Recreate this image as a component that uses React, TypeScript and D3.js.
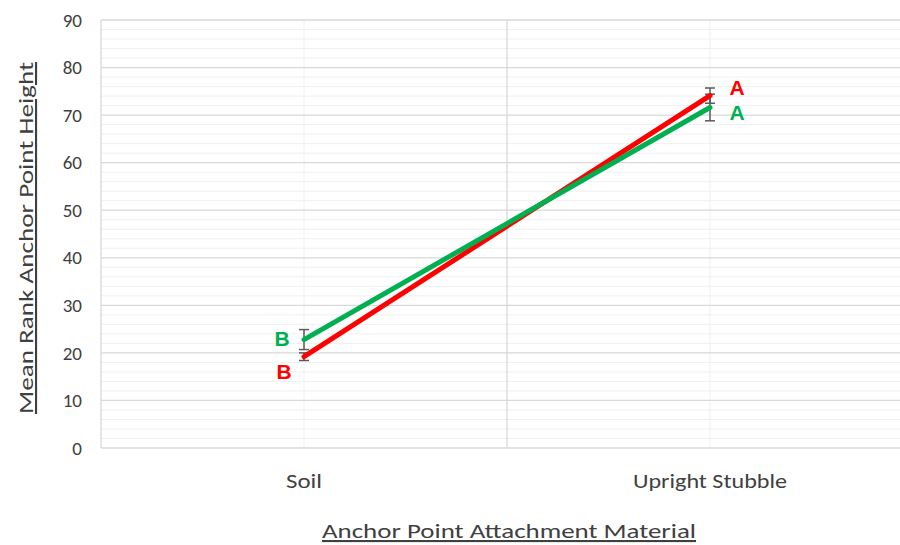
import * as d3 from "d3";

const width = 900;
const height = 545;
const margin = { top: 20, left: 101, bottom: 97 };

// data
const categories = ["Soil", "Upright Stubble"];
const categoryWidths = [36, 154];
const redMeans = [19.2, 74.1];
const redErr = [0.8, 1.6];
const redLetters = ["B", "A"];
const greenMeans = [22.8, 71.6];
const greenErr = [2.1, 2.8];
const greenLetters = ["B", "A"];
const yTicks = [0, 10, 20, 30, 40, 50, 60, 70, 80, 90];

const RED = "#ff0000";
const GREEN = "#00b050";
const FONT = "Calibri, Carlito, 'Liberation Sans', Arial, sans-serif";
const BOLD = "'Liberation Sans', Arial, sans-serif";

const App = () => {
  const x = d3.scaleBand<string>().domain(categories).range([margin.left, margin.left + 812]).padding(0);
  const y = d3.scaleLinear().domain([0, 90]).range([height - margin.bottom, margin.top]);
  const cx = (c: string) => (x(c) as number) + x.bandwidth() / 2;

  const minorTicks = d3.range(0, 91, 2).filter(v => v % 10 !== 0);

  const line = d3.line<[string, number]>().x(d => cx(d[0])).y(d => y(d[1]));
  const redPts = categories.map((c, i) => [c, redMeans[i]] as [string, number]);
  const greenPts = categories.map((c, i) => [c, greenMeans[i]] as [string, number]);

  const errorBar = (c: string, m: number, e: number, key: string) => {
    const px = cx(c);
    return (
      <g key={key} stroke="#595959" strokeWidth={1.5}>
        <line x1={px} x2={px} y1={y(m + e)} y2={y(m - e)} />
        <line x1={px - 5} x2={px + 5} y1={y(m + e)} y2={y(m + e)} />
        <line x1={px - 5} x2={px + 5} y1={y(m - e)} y2={y(m - e)} />
      </g>
    );
  };

  const x0 = margin.left;
  const x1 = width;
  const yBottom = y(0);
  const yTop = y(90);

  return (
    <svg width={width} height={height} viewBox={`0 0 ${width} ${height}`}
      style={{ position: "absolute", left: 0, top: 0, background: "#fff" }}>
      {/* minor horizontal gridlines */}
      {minorTicks.map(v => (
        <line key={"mh" + v} x1={x0} x2={x1} y1={y(v)} y2={y(v)} stroke="#f0f0f0" strokeWidth={1} />
      ))}
      {/* minor vertical gridlines at category centers */}
      {categories.map(c => (
        <line key={"mv" + c} x1={cx(c)} x2={cx(c)} y1={yTop} y2={yBottom} stroke="#f0f0f0" strokeWidth={1} />
      ))}
      {/* major horizontal gridlines */}
      {yTicks.map(v => (
        <line key={"h" + v} x1={x0} x2={x1} y1={y(v)} y2={y(v)} stroke="#d9d9d9" strokeWidth={1.3} />
      ))}
      {/* major vertical gridlines at category boundaries */}
      {categories.map(c => (
        <line key={"v" + c} x1={x(c) as number} x2={x(c) as number} y1={yTop} y2={yBottom} stroke="#d9d9d9" strokeWidth={1.3} />
      ))}

      {/* y tick labels */}
      {yTicks.map(v => (
        <text key={"t" + v} x={82} y={y(v)} dy="0.35em" textAnchor="end" fontFamily={FONT} fontSize={19} fill="#404040">{v}</text>
      ))}
      {/* category labels */}
      {categories.map((c, i) => (
        <text key={"c" + c} x={cx(c)} y={481} dy="0.35em" textAnchor="middle" fontFamily={FONT} fontSize={20} fill="#404040"
          textLength={categoryWidths[i]} lengthAdjust="spacingAndGlyphs">{c}</text>
      ))}

      {/* error bars */}
      {categories.map((c, i) => errorBar(c, redMeans[i], redErr[i], "re" + c))}
      {categories.map((c, i) => errorBar(c, greenMeans[i], greenErr[i], "ge" + c))}

      {/* series lines */}
      <path d={line(redPts) as string} fill="none" stroke={RED} strokeWidth={5} strokeLinecap="round" />
      <path d={line(greenPts) as string} fill="none" stroke={GREEN} strokeWidth={5} strokeLinecap="round" />

      {/* significance letters */}
      <text x={cx(categories[0]) - 20} y={y(redMeans[0]) + 22} textAnchor="middle" fontFamily={BOLD} fontWeight="bold" fontSize={21} fill={RED}>{redLetters[0]}</text>
      <text x={cx(categories[0]) - 22} y={y(greenMeans[0]) + 6} textAnchor="middle" fontFamily={BOLD} fontWeight="bold" fontSize={21} fill={GREEN}>{greenLetters[0]}</text>
      <text x={cx(categories[1]) + 27} y={y(redMeans[1]) - 1} textAnchor="middle" fontFamily={BOLD} fontWeight="bold" fontSize={21} fill={RED}>{redLetters[1]}</text>
      <text x={cx(categories[1]) + 27} y={y(greenMeans[1]) + 12} textAnchor="middle" fontFamily={BOLD} fontWeight="bold" fontSize={21} fill={GREEN}>{greenLetters[1]}</text>

      {/* axis titles */}
      <text transform={`translate(33, ${(yTop + yBottom) / 2 + 4}) rotate(-90)`} textAnchor="middle"
        fontFamily={FONT} fontSize={21} fill="#404040" textDecoration="underline"
        textLength={352} lengthAdjust="spacingAndGlyphs">Mean Rank  Anchor Point Height</text>
      <text x={509} y={538} textAnchor="middle" fontFamily={FONT} fontSize={21} fill="#404040"
        textDecoration="underline" textLength={374} lengthAdjust="spacingAndGlyphs">Anchor Point Attachment Material</text>
    </svg>
  );
};

export default App;
